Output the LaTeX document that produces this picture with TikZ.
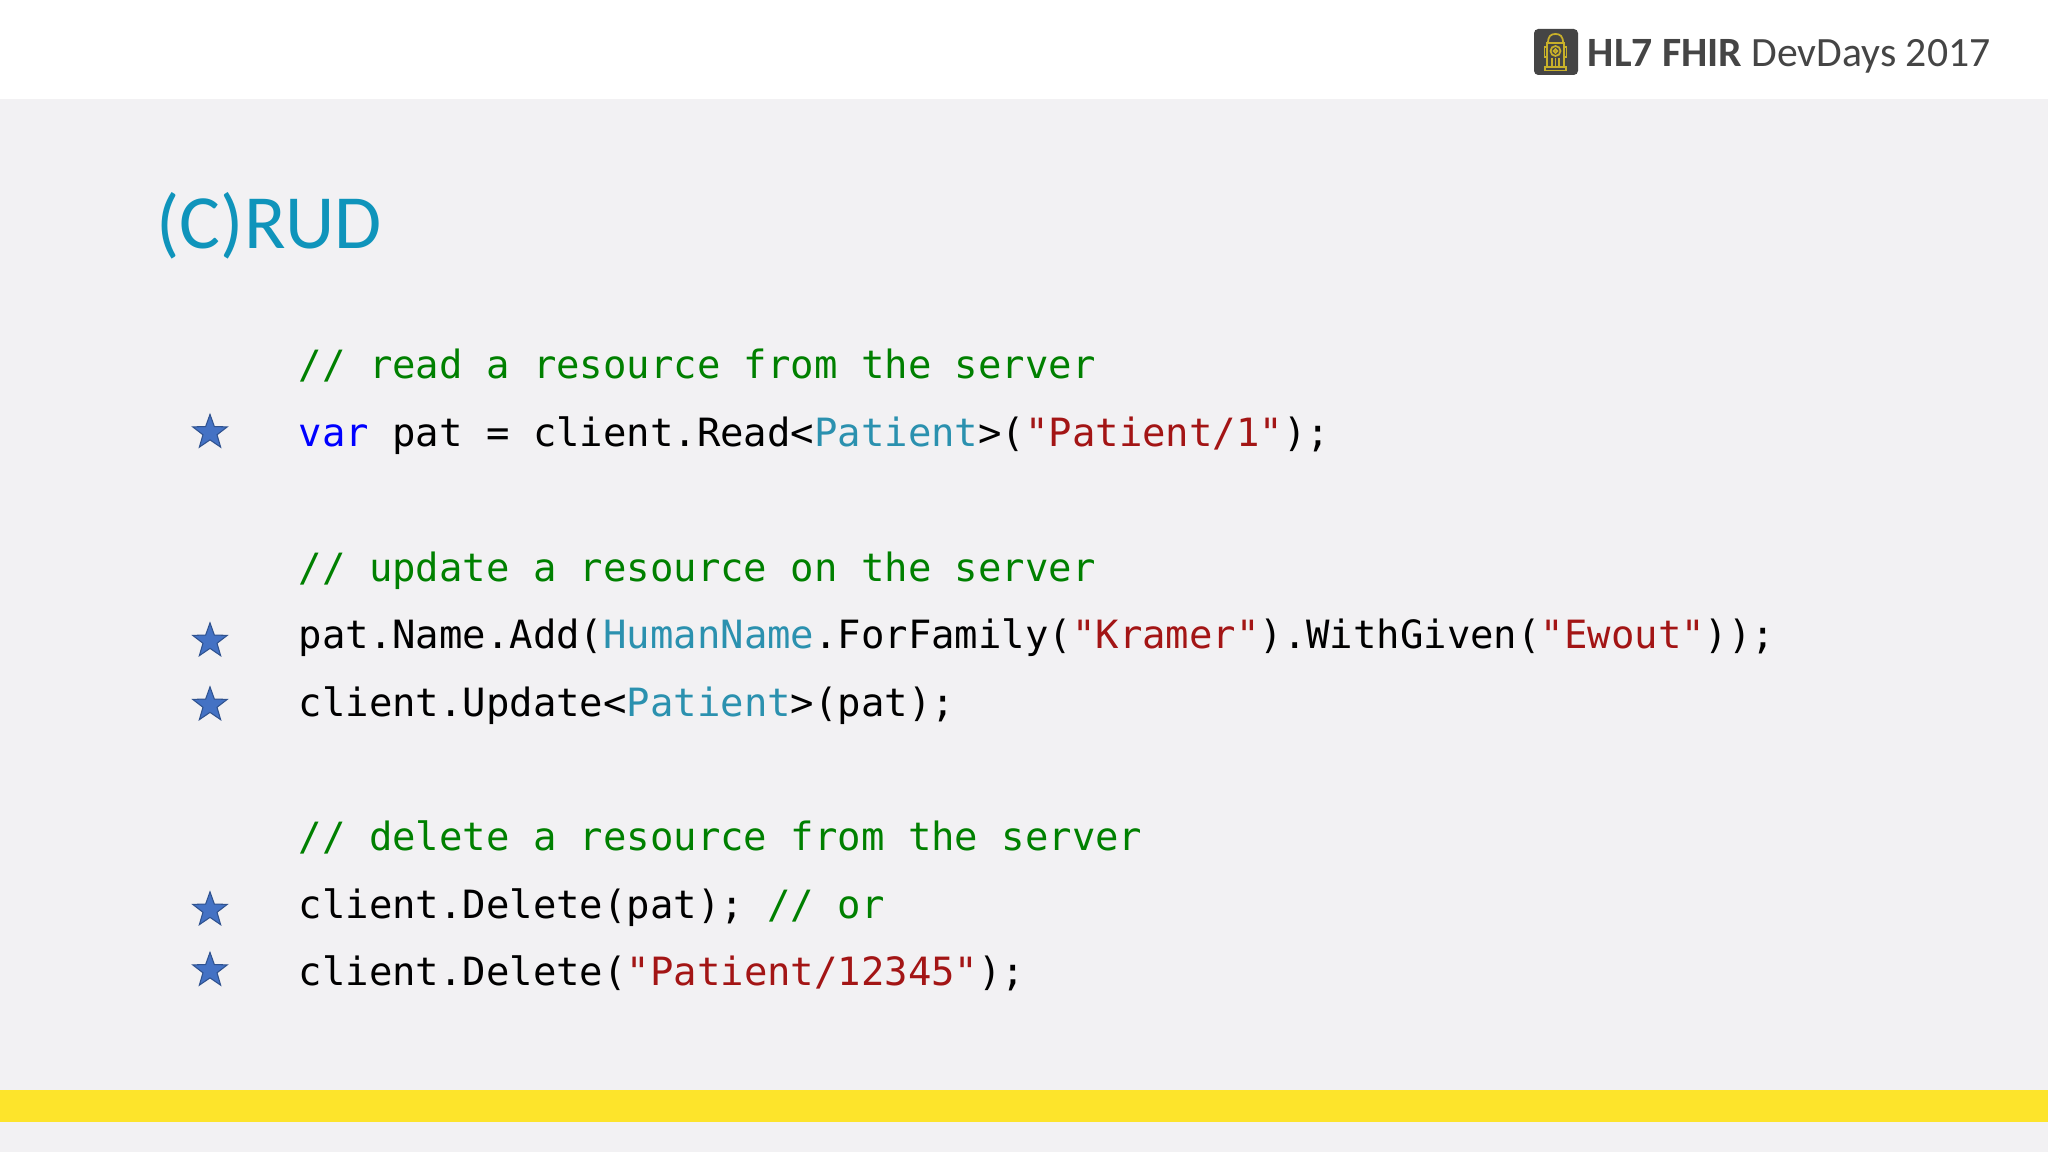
\documentclass[tikz,border=0pt]{standalone}
\usepackage{fontspec}
\setmainfont{Carlito}
\setmonofont{DejaVu Sans Mono}
\usetikzlibrary{shapes.geometric}
\definecolor{slidegray}{HTML}{F2F1F3}
\definecolor{bandyellow}{HTML}{FDE42B}
\definecolor{titleblue}{HTML}{0F94BB}
\definecolor{logodark}{HTML}{454545}
\definecolor{logoyellow}{HTML}{C8B02A}
\definecolor{cmtgreen}{HTML}{008000}
\definecolor{kwblue}{HTML}{0000FF}
\definecolor{typeblue}{HTML}{2B91AF}
\definecolor{strred}{HTML}{A31515}
\definecolor{starfill}{HTML}{4472C4}
\definecolor{starline}{HTML}{2F528F}
\newcommand{\cmt}[1]{\textcolor{cmtgreen}{#1}}
\newcommand{\kw}[1]{\textcolor{kwblue}{#1}}
\newcommand{\typ}[1]{\textcolor{typeblue}{#1}}
\newcommand{\str}[1]{\textcolor{strred}{#1}}
\tikzset{
  codeline/.style={anchor=base west,inner sep=0pt,font=\ttfamily\fontsize{11.07pt}{13pt}\selectfont},
  bluestar/.style={star,star points=5,star point ratio=2.45,minimum size=10.3pt,inner sep=0pt,draw=starline,fill=starfill,line width=0.3pt},
  hydrant/.style={draw=logoyellow,line width=0.5pt}
}
\begin{document}
\begin{tikzpicture}[x=0.01cm,y=-0.01cm]
\useasboundingbox (0,0) rectangle (2048,1152);
\fill[slidegray] (0,0) rectangle (2048,1152);
\fill[white] (0,0) rectangle (2048,99);
\fill[bandyellow] (0,1090) rectangle (2048,1122);

% logo and header
\fill[logodark,rounded corners=1.2pt] (1534,29) rectangle (1578,75);
\draw[hydrant] (1548,43) .. controls (1548,36) and (1551,34) .. (1555.5,34) .. controls (1560,34) and (1563,36) .. (1563,43) -- cycle;
\draw[hydrant] (1547,43) rectangle (1564,67);
\draw[hydrant] (1544.5,47) rectangle (1547,57);
\draw[hydrant] (1564,47) rectangle (1566.5,57);
\draw[hydrant] (1555.5,51) circle[radius=5];
\draw[hydrant] (1555.5,51) circle[radius=1.8];
\foreach \x in {1552,1555.5,1559}
  \draw[hydrant] (\x,58) -- (\x,66);
\draw[hydrant] (1545,67) rectangle (1566,70.5);
\node[anchor=base west,inner sep=0pt,text=logodark,font=\fontsize{11.86pt}{14pt}\selectfont] (header) at (1587,67) {\textbf{HL7 FHIR} DevDays 2017};

% title
\node[anchor=base west,inner sep=0pt,text=titleblue,font=\fontsize{21.8pt}{26pt}\selectfont] (title) at (156,248.5) {(C)RUD};

% code lines
\node[codeline] (cmtread) at (298,379) {\cmt{// read a resource from the server}};
\node[codeline] (read) at (298,446.5) {\kw{var} pat = client.Read<\typ{Patient}>(\str{"Patient/1"});};
\node[codeline] (cmtupdate) at (298,581) {\cmt{// update a resource on the server}};
\node[codeline] (addname) at (298,648.5) {pat.Name.Add(\typ{HumanName}.ForFamily(\str{"Kramer"}).WithGiven(\str{"Ewout"}));};
\node[codeline] (update) at (298,716) {client.Update<\typ{Patient}>(pat);};
\node[codeline] (cmtdelete) at (298,850.5) {\cmt{// delete a resource from the server}};
\node[codeline] (delpat) at (298,918) {client.Delete(pat); \cmt{// or}};
\node[codeline] (delid) at (298,985) {client.Delete(\str{"Patient/12345"});};

% stars
\foreach \y/\name in {432.5/a,641/b,705/c,910/d,970.5/e}
  \node[bluestar] (star\name) at (210,\y) {};
\end{tikzpicture}
\end{document}
